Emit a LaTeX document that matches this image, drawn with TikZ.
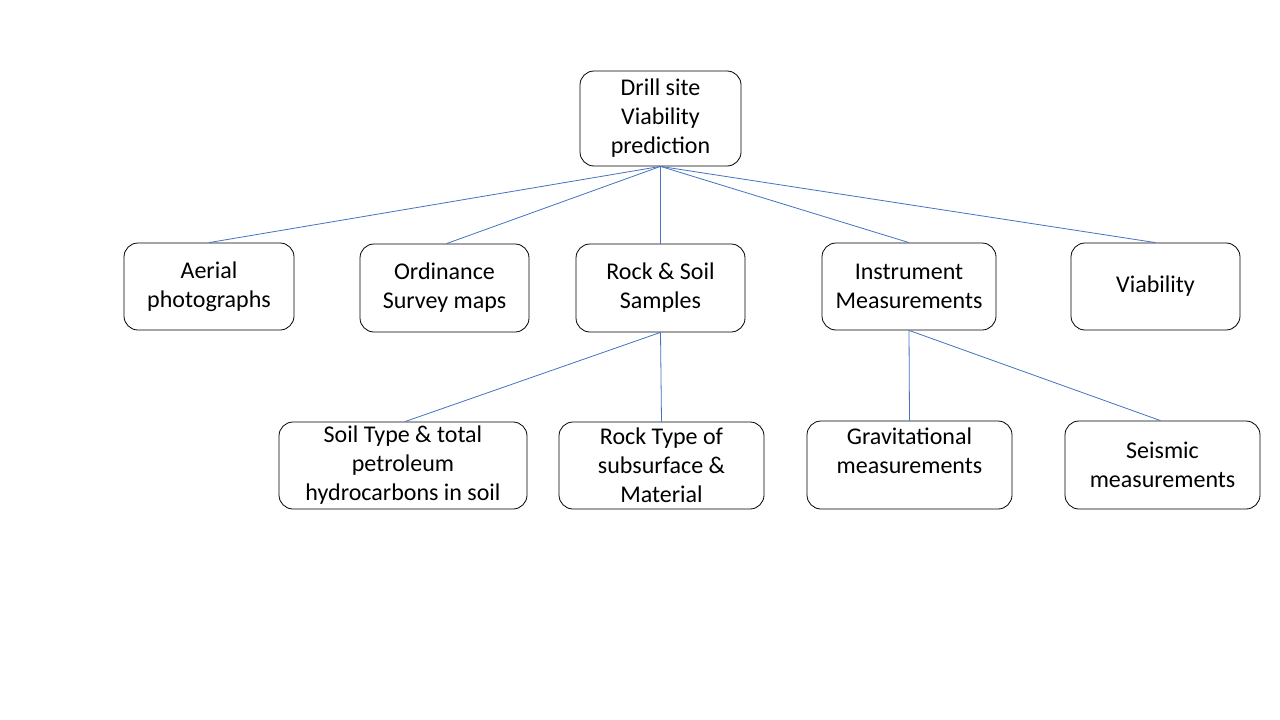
\documentclass[tikz,border=0pt]{standalone}
\usepackage{fontspec}
\setmainfont{Carlito}
\begin{document}
\begin{tikzpicture}[x=1pt,y=-1pt,
  box/.style={draw=black, line width=0.8pt, rounded corners=14pt, inner sep=0pt,
    align=center, font=\fontsize{24}{29}\selectfont},
  link/.style={draw={rgb,255:red,68;green,114;blue,196}, line width=0.8pt}]
\useasboundingbox[fill=white] (0,0) rectangle (1280,720);
\node[box, minimum width=161pt, minimum height=95pt] (top) at (660.5,118.5) {Drill site\\Viability\\prediction};
\node[box, minimum width=170pt, minimum height=87pt] (aerial) at (209,286.5) {Aerial\\photographs};
\node[box, minimum width=169pt, minimum height=88pt] (ord) at (444.5,288) {Ordinance\\Survey maps};
\node[box, minimum width=169pt, minimum height=88pt] (rock) at (660.5,288) {Rock \& Soil\\Samples};
\node[box, minimum width=174pt, minimum height=87pt] (instr) at (909,286.5) {Instrument\\Measurements};
\node[box, minimum width=169pt, minimum height=87pt] (viab) at (1155.5,286.5) {Viability};
\node[box, minimum width=248pt, minimum height=87pt] (soil) at (403,465.5) {Soil Type \& total\\petroleum\\hydrocarbons in soil};
\node[box, minimum width=205pt, minimum height=87pt] (rtype) at (661.5,465.5) {Rock Type of\\subsurface \&\\Material};
\node[box, minimum width=205pt, minimum height=88pt] (grav) at (909.5,465) {Gravitational\\measurements\\\mbox{}};
\node[box, minimum width=195pt, minimum height=88pt] (seis) at (1162.5,465) {Seismic\\measurements};
\draw[link] (top.south) -- (aerial.north);
\draw[link] (top.south) -- ([xshift=2pt]ord.north);
\draw[link] (top.south) -- (rock.north);
\draw[link] (top.south) -- (instr.north);
\draw[link] (top.south) -- (viab.north);
\draw[link] (rock.south) -- ([xshift=2pt]soil.north);
\draw[link] (rock.south) -- (rtype.north);
\draw[link] (instr.south) -- (grav.north);
\draw[link] (instr.south) -- ([xshift=-2pt]seis.north);
\end{tikzpicture}
\end{document}
